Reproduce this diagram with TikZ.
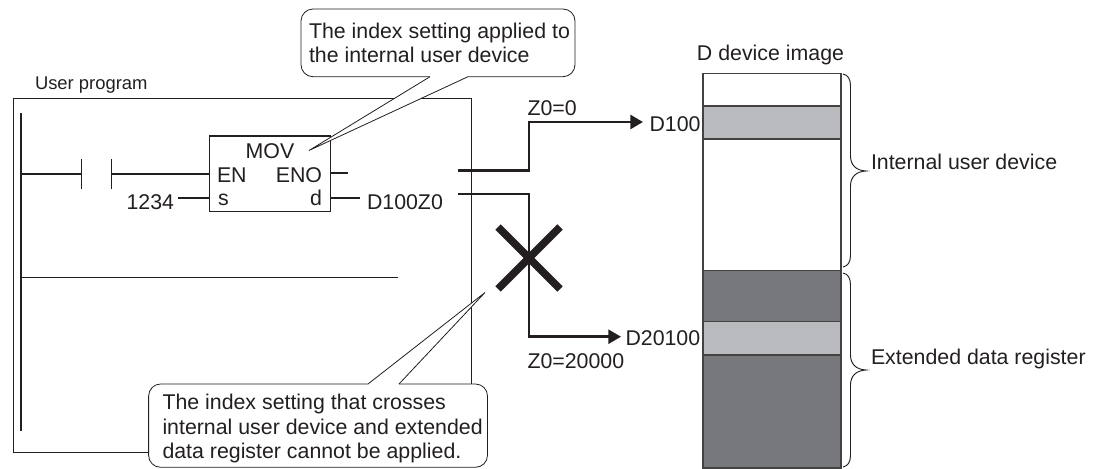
\documentclass[tikz,border=0pt]{standalone}
\usepackage{fontspec}
\setmainfont{Liberation Sans}
\usetikzlibrary{arrows.meta}
\definecolor{ink}{HTML}{231F20}
\definecolor{lightband}{HTML}{B9BABD}
\definecolor{darkband}{HTML}{77787B}
\tikzset{
  x=0.75pt,y=-0.75pt,
  txt/.style={inner sep=0pt,outer sep=0pt,text=ink,font=\fontsize{16}{18.6}\selectfont,align=left},
  thinline/.style={draw=ink,line width=0.75pt},
  wire/.style={draw=ink,line width=0.95pt},
  thick wire/.style={draw=ink,line width=2pt,-{Triangle[length=9.5pt,width=10.5pt]}},
  callout/.style={draw=ink,fill=white,line width=0.6pt,rounded corners=9pt},
  band/.style={draw=ink!85,line width=0.9pt},
  brace/.style={draw=ink,line width=0.7pt},
}
\begin{document}
\begin{tikzpicture}
\useasboundingbox (0,0) rectangle (1103,468);
% frame
\node[txt,anchor=base west,font=\fontsize{13.8}{16}\selectfont] (up) at (35,89) {User program};
\draw[thinline] (13,98) rectangle (471.5,452);
\coordinate (railT) at (21,113);
\coordinate (railB) at (21,431);
\draw[wire,line width=1.1pt] (railT) -- (railB);
% MOV box
\node[draw=ink,line width=0.95pt,minimum width=90.75pt,minimum height=56.8pt,inner sep=0pt,fill=white] (mov) at (270,173.8) {};
\node[txt,anchor=base] (movt) at (270,158) {MOV};
\node[txt,anchor=base west] (en) at (217,182) {EN};
\node[txt,anchor=base east] (eno) at (322,182) {ENO};
\node[txt,anchor=base west] (s) at (218,205) {s};
\node[txt,anchor=base east] (d) at (322,205) {d};
\node[txt,anchor=base east] (k) at (174,209.5) {1234};
\node[txt,anchor=base west] (dz) at (367,209.5) {D100Z0};
% rung 1
\coordinate (c1) at (81.5,174);
\coordinate (c2) at (111.5,174);
\draw[wire] (railT |- c1) -- (c1);
\draw[wire] (81.5,159) -- (81.5,189);
\draw[wire] (111.5,159) -- (111.5,189);
\draw[wire] (c2) -- (mov.west |- c2);
\coordinate (kend) at (177.5,198);
\draw[wire] (kend) -- (mov.west |- kend);
\coordinate (enoend) at (348,173);
\draw[wire] (mov.east |- enoend) -- (enoend);
\coordinate (dend) at (360,198);
\draw[wire] (mov.east |- dend) -- (dend);
% rung 2
\coordinate (r2) at (397.5,277.7);
\draw[wire] (railT |- r2) -- (r2);
% callout 1
\coordinate (t1) at (309,150.5);
\draw[callout] (430,76.7) -- (301,76.7) -- (301,9) -- (575,9) -- (575,76.7) -- (468,76.7);
\fill[white] (430,76.7) -- (t1) -- (468,76.7) -- cycle;
\draw[draw=ink,line width=0.6pt] (430,76.7) -- (t1) -- (468,76.7);
\node[txt,anchor=base west] (c1t) at (309,38) {The index setting applied to};
\node[txt,anchor=base west] (c1u) at (309,62.5) {the internal user device};
% thick connectors
\node[txt,anchor=base west] (d100) at (649.5,131) {D100};
\node[txt,anchor=base west] (d201) at (625.5,345.5) {D20100};
\node[txt,anchor=base west] (z0) at (527.5,115) {Z0=0};
\node[txt,anchor=base west] (z2) at (527.5,368) {Z0=20000};
\coordinate (s1) at (458,170.7);
\coordinate (s2) at (458,194);
\coordinate (e1) at (643,122);
\coordinate (e2) at (621,336.7);
\draw[thick wire] (s1) -- (529,170.7) -- (529,122) -- (e1);
\draw[thick wire] (s2) -- (529,194) -- (529,336.7) -- (e2);
% cross
\draw[draw=ink,line width=5.8pt] (498,227) -- (560,289);
\draw[draw=ink,line width=5.8pt] (498,289) -- (560,227);
% callout 2
\coordinate (t2) at (485,292.5);
\draw[callout] (368,384) -- (148.6,384) -- (148.6,467.3) -- (487.5,467.3) -- (487.5,384) -- (399,384);
\fill[white] (368,384) -- (t2) -- (399,384) -- cycle;
\draw[draw=ink,line width=0.6pt] (368,384) -- (t2) -- (399,384);
\node[txt,anchor=base west] (c2a) at (162.5,409.5) {The index setting that crosses};
\node[txt,anchor=base west] (c2b) at (162.5,434) {internal user device and extended};
\node[txt,anchor=base west] (c2c) at (162.5,458.5) {data register cannot be applied.};
% device column
\node[txt,anchor=base] (dimg) at (770.5,60) {D device image};
\path[fill=white] (703,73.3) rectangle (841,270.7);
\draw[band,fill=lightband] (703,106) rectangle (841,139);
\draw[band,fill=darkband] (703,270.7) rectangle (841,468);
\draw[band,fill=lightband] (703,321.7) rectangle (841,355);
\draw[band] (703,468) -- (703,73.3) -- (841,73.3) -- (841,468);
% braces
\draw[brace] (843,74) .. controls (848,75) and (850.5,79) .. (850.5,86)
  -- (850.5,156) .. controls (850.5,165) and (856,170.5) .. (866,171)
  .. controls (856,171.5) and (850.5,177) .. (850.5,186)
  -- (850.5,255) .. controls (850.5,262) and (848,266) .. (843,267);
\draw[brace] (843,273) .. controls (848,274) and (850.5,278) .. (850.5,285)
  -- (850.5,355) .. controls (850.5,364) and (856,369.5) .. (866,370)
  .. controls (856,370.5) and (850.5,376) .. (850.5,385)
  -- (850.5,455) .. controls (850.5,462) and (848,466) .. (843,467);
\node[txt,anchor=base west] (iud) at (871,169) {Internal user device};
\node[txt,anchor=base west] (edr) at (871,364) {Extended data register};
\end{tikzpicture}
\end{document}
